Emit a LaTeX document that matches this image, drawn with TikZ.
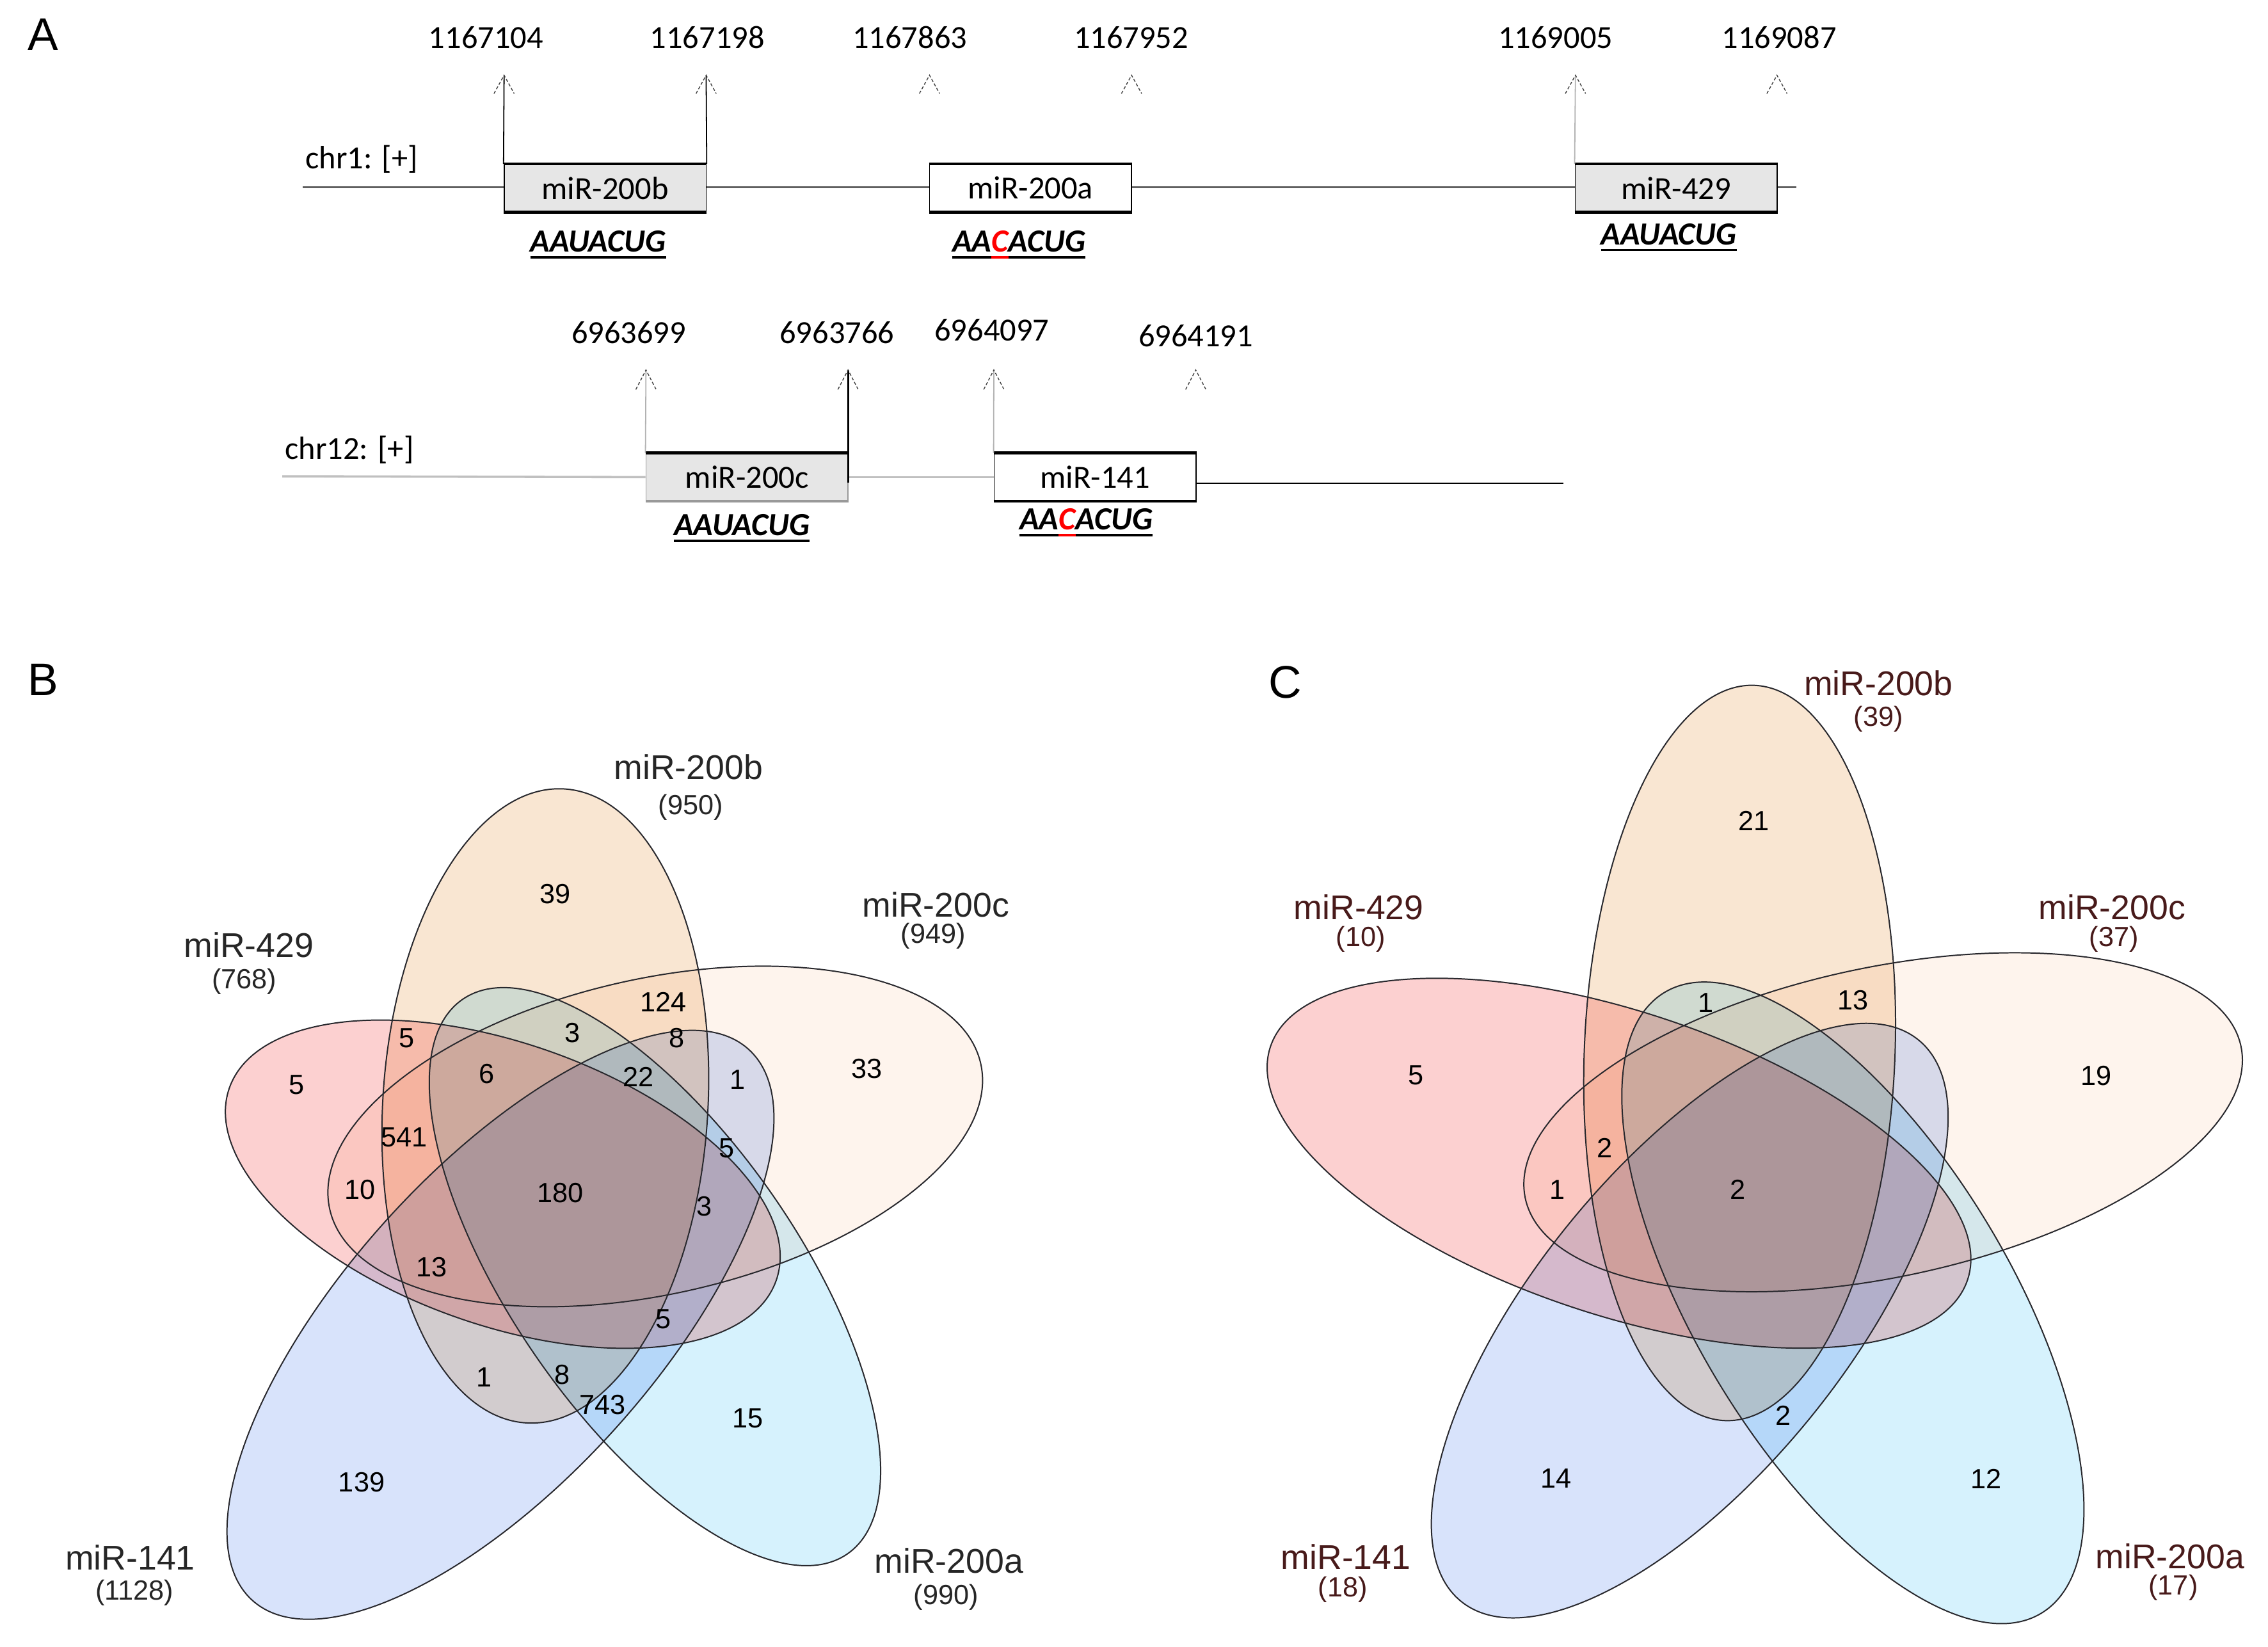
\documentclass[tikz,border=0pt]{standalone}
\usepackage{fontspec}
\setmainfont{Liberation Sans}
\newfontfamily\carlito{Carlito}
\usetikzlibrary{calc}
\definecolor{tanc}{RGB}{249,230,210}
\definecolor{pinkc}{RGB}{252,208,208}
\definecolor{peachc}{RGB}{254,244,237}
\definecolor{bluec}{RGB}{216,227,251}
\definecolor{cyanc}{RGB}{214,242,253}
\definecolor{boxgray}{RGB}{230,230,230}
\definecolor{chrgray}{RGB}{96,96,96}
\definecolor{lightline}{RGB}{192,192,192}
\definecolor{vline}{RGB}{40,40,45}
\definecolor{maroon}{RGB}{72,26,26}
\newsavebox{\ulbox}
\newcommand{\myul}[1]{\sbox{\ulbox}{#1}\rlap{\rule[-2.6pt]{\wd\ulbox}{0.9pt}}\usebox{\ulbox}}
\newcommand{\vellipse}[6]{\path[#6, rotate around={#5:(#1,#2)}] (#1,#2) ellipse [x radius=#3, y radius=#4];}
\tikzset{
  panel/.style={font=\fontsize{18}{20}\selectfont, inner sep=0},
  postxt/.style={font=\carlito\fontsize{12.7}{15}\selectfont, inner sep=0},
  seqtxt/.style={font=\carlito\fontsize{12.7}{15}\selectfont\bfseries\itshape, inner sep=0},
  mirbox/.style={draw=black, line width=0.45pt, minimum width=2.794cm, minimum height=0.654cm, inner sep=0, font=\carlito\fontsize{12.7}{15}\selectfont},
  boxedge/.style={line width=1.1pt},
  chrline/.style={draw=chrgray, line width=0.7pt},
  tickline/.style={draw=black, line width=0.45pt},
  graytick/.style={draw=black!30, line width=0.45pt},
  chev/.style={draw=black!75, line width=0.35pt, dash pattern=on 1.2pt off 0.8pt},
  vout/.style={draw=vline, line width=0.5pt},
  vlab/.style={font=\fontsize{13.5}{15}\selectfont, inner sep=0, text=black!85},
  vcnt/.style={font=\fontsize{10.9}{13}\selectfont, inner sep=0, text=black!85},
  vnum/.style={font=\fontsize{10.9}{13}\selectfont, inner sep=0},
  vlabC/.style={vlab, text=maroon},
  vcntC/.style={vcnt, text=maroon}
}
\begin{document}
\begin{tikzpicture}[x=0.02cm,y=-0.02cm]
\useasboundingbox (0,0) rectangle (1568,1138);

% ---------------- Panel A ----------------
\node[panel] (lA) at (30,24) {A};

% chr1
\coordinate (c1s) at (209.3,129.4);
\coordinate (c1e) at (1241.8,129.4);
\draw[chrline] (c1s) -- (c1e);
\node[postxt] (chr1) at (250,110) {chr1: [+]};

\node[mirbox, fill=boxgray] (b200b) at (418.35,130) {miR-200b};
\node[mirbox, fill=white] (b200a) at (712.45,130) {miR-200a};
\node[mirbox, fill=boxgray] (b429) at (1158.85,130) {miR-429};
\foreach \b in {b200b,b200a,b429}{
  \draw[boxedge] (\b.north west) -- (\b.north east);
  \draw[boxedge] (\b.south west) -- (\b.south east);
}

\coordinate (t1) at (348.5,52);
\coordinate (t2) at (488.2,52);
\coordinate (t3) at (642.6,52);
\coordinate (t4) at (782.3,52);
\coordinate (t5) at (1089.2,52);
\coordinate (t6) at (1228.5,52);
\draw[tickline] (b200b.north west) -- (t1);
\draw[tickline] (b200b.north east) -- (t2);
\draw[graytick] (b429.north west) -- (t5);
\foreach \t in {t1,t2,t3,t4,t5,t6}{
  \draw[chev] (\t) ++(-7,12.7) -- (\t) -- ++(7,12.7);
}
\node[postxt] (p1) at (336,26) {1167104};
\node[postxt] (p2) at (489,26) {1167198};
\node[postxt] (p3) at (629,26) {1167863};
\node[postxt] (p4) at (782,26) {1167952};
\node[postxt] (p5) at (1075.4,26) {1169005};
\node[postxt] (p6) at (1230,26) {1169087};

\node[seqtxt] (s1) at (413.5,169) {\myul{AAUACUG}};
\node[seqtxt] (s2) at (704.5,169) {\myul{AA}\textcolor{red}{\myul{C}}\myul{ACUG}};
\node[seqtxt] (s3) at (1153.7,164) {\myul{AAUACUG}};

% chr12
\coordinate (c2s) at (195.2,329.2);
\coordinate (c2e) at (1081,334);
\node[postxt] (chr12) at (241.5,311) {chr12: [+]};
\node[mirbox, fill=boxgray, draw=black!40] (b200c) at (516.45,329.8) {miR-200c};
\node[mirbox, fill=white] (b141) at (757.15,329.8) {miR-141};
\draw[draw=lightline, line width=0.9pt] (c2s) -- (b200c.west);
\draw[draw=lightline, line width=0.9pt] (b200c.east) -- (b141.west);
\draw[draw=black, line width=0.7pt] (b141.east |- c2e) -- (c2e);
\draw[boxedge] (b200c.north west) -- (b200c.north east);
\draw[boxedge, draw=black!40] (b200c.south west) -- (b200c.south east);
\draw[boxedge] (b141.north west) -- (b141.north east);
\draw[boxedge] (b141.south west) -- (b141.south east);

\coordinate (u1) at (446.6,255.7);
\coordinate (u2) at (586.3,255.7);
\coordinate (u3) at (687.1,255.7);
\coordinate (u4) at (826.7,255.7);
\coordinate (u2b) at (586.3,333.6);
\draw[graytick] (b200c.north west) -- (u1);
\draw[tickline, line width=0.7pt] (u2b) -- (u2);
\draw[graytick] (b141.north west) -- (u3);
\foreach \t in {u1,u2,u3,u4}{
  \draw[chev] (\t) ++(-7,13.5) -- (\t) -- ++(7,13.5);
}
\node[postxt] (q1) at (434.7,230) {6963699};
\node[postxt] (q2) at (578.6,230) {6963766};
\node[postxt] (q3) at (685.7,228) {6964097};
\node[postxt] (q4) at (826.7,232) {6964191};

\node[seqtxt] (s4) at (512.9,365) {\myul{AAUACUG}};
\node[seqtxt] (s5) at (750.9,361) {\myul{AA}\textcolor{red}{\myul{C}}\myul{ACUG}};

% ---------------- Panel B ----------------
\node[panel] (lB) at (30,470) {B};
\begin{scope}[blend mode=multiply]
\vellipse{377}{764.4}{219.5}{112.4}{86.6}{fill=tanc}
\vellipse{453}{785.5}{230.6}{109}{12.6}{fill=peachc}
\vellipse{347.6}{818.5}{200.4}{97.4}{160.6}{fill=pinkc}
\vellipse{346}{915.7}{256.3}{107}{48}{fill=bluec}
\vellipse{452.8}{882.4}{233.3}{99}{124.8}{fill=cyanc}
\end{scope}
\vellipse{377}{764.4}{219.5}{112.4}{86.6}{vout}
\vellipse{453}{785.5}{230.6}{109}{12.6}{vout}
\vellipse{347.6}{818.5}{200.4}{97.4}{160.6}{vout}
\vellipse{346}{915.7}{256.3}{107}{48}{vout}
\vellipse{452.8}{882.4}{233.3}{99}{124.8}{vout}

\node[vlab] (bl1) at (476,530) {miR-200b};
\node[vcnt] (bc1) at (477.5,558) {(950)};
\node[vlab] (bl2) at (647,625.5) {miR-200c};
\node[vcnt] (bc2) at (645.2,647) {(949)};
\node[vlab] (bl3) at (172,653) {miR-429};
\node[vcnt] (bc3) at (168.9,678.5) {(768)};
\node[vlab] (bl4) at (90,1076.5) {miR-141};
\node[vcnt] (bc4) at (93,1101) {(1128)};
\node[vlab] (bl5) at (656,1079) {miR-200a};
\node[vcnt] (bc5) at (654,1104) {(990)};

\foreach \x/\y/\t [count=\i] in {384/617.8/39, 281.3/717.6/5, 395.6/713.8/3, 458.5/692.8/124,
  468/717.6/8, 205/750/5, 336.5/742.4/6, 441.3/744.3/22, 509.9/746.2/1, 599.4/738.5/33,
  279.4/786.2/541, 502.3/793.8/5, 248.9/822.4/10, 387.2/824.3/180, 487/833.8/3,
  298.4/875.7/13, 458.5/911.9/5, 334.6/951.9/1, 388.7/950/8, 416.5/971/743,
  516.8/980.5/15, 250/1024.3/139}{
  \node[vnum] (bn\i) at (\x,\y) {\t};
}

% ---------------- Panel C ----------------
\node[panel] (lC) at (888.6,471.4) {C};
\begin{scope}[blend mode=multiply]
\vellipse{1202.7}{727.8}{254.3}{107.4}{87.7}{fill=tanc}
\vellipse{1301.9}{775.7}{252.9}{107}{12}{fill=peachc}
\vellipse{1119.3}{804}{254.1}{104.6}{161.5}{fill=pinkc}
\vellipse{1168.2}{912.8}{250.3}{107}{50.8}{fill=bluec}
\vellipse{1281}{900.5}{251}{108}{121.3}{fill=cyanc}
\end{scope}
\vellipse{1202.7}{727.8}{254.3}{107.4}{87.7}{vout}
\vellipse{1301.9}{775.7}{252.9}{107}{12}{vout}
\vellipse{1119.3}{804}{254.1}{104.6}{161.5}{vout}
\vellipse{1168.2}{912.8}{250.3}{107}{50.8}{vout}
\vellipse{1281}{900.5}{251}{108}{121.3}{vout}

\node[vlabC] (cl1) at (1298.7,472.3) {miR-200b};
\node[vcntC] (cc1) at (1298.7,497) {(39)};
\node[vlabC] (cl2) at (1460.1,627) {miR-200c};
\node[vcntC] (cc2) at (1461.4,649) {(37)};
\node[vlabC] (cl3) at (939.4,627) {miR-429};
\node[vcntC] (cc3) at (940.8,649) {(10)};
\node[vlabC] (cl4) at (930.5,1076) {miR-141};
\node[vcntC] (cc4) at (928.3,1098.5) {(18)};
\node[vlabC] (cl5) at (1500.2,1075.5) {miR-200a};
\node[vcntC] (cc5) at (1502.5,1097.5) {(17)};

\foreach \x/\y/\t [count=\i] in {1212.7/567.3/21, 1179.3/693/1, 1280.9/691.2/13, 978.7/743.4/5,
  1449/743.4/19, 1109.3/793.3/2, 1076.7/822.3/1, 1201.5/822.3/2, 1232.8/978.3/2,
  1075.8/1022/14, 1373.2/1022/12}{
  \node[vnum] (cn\i) at (\x,\y) {\t};
}
\end{tikzpicture}
\end{document}
